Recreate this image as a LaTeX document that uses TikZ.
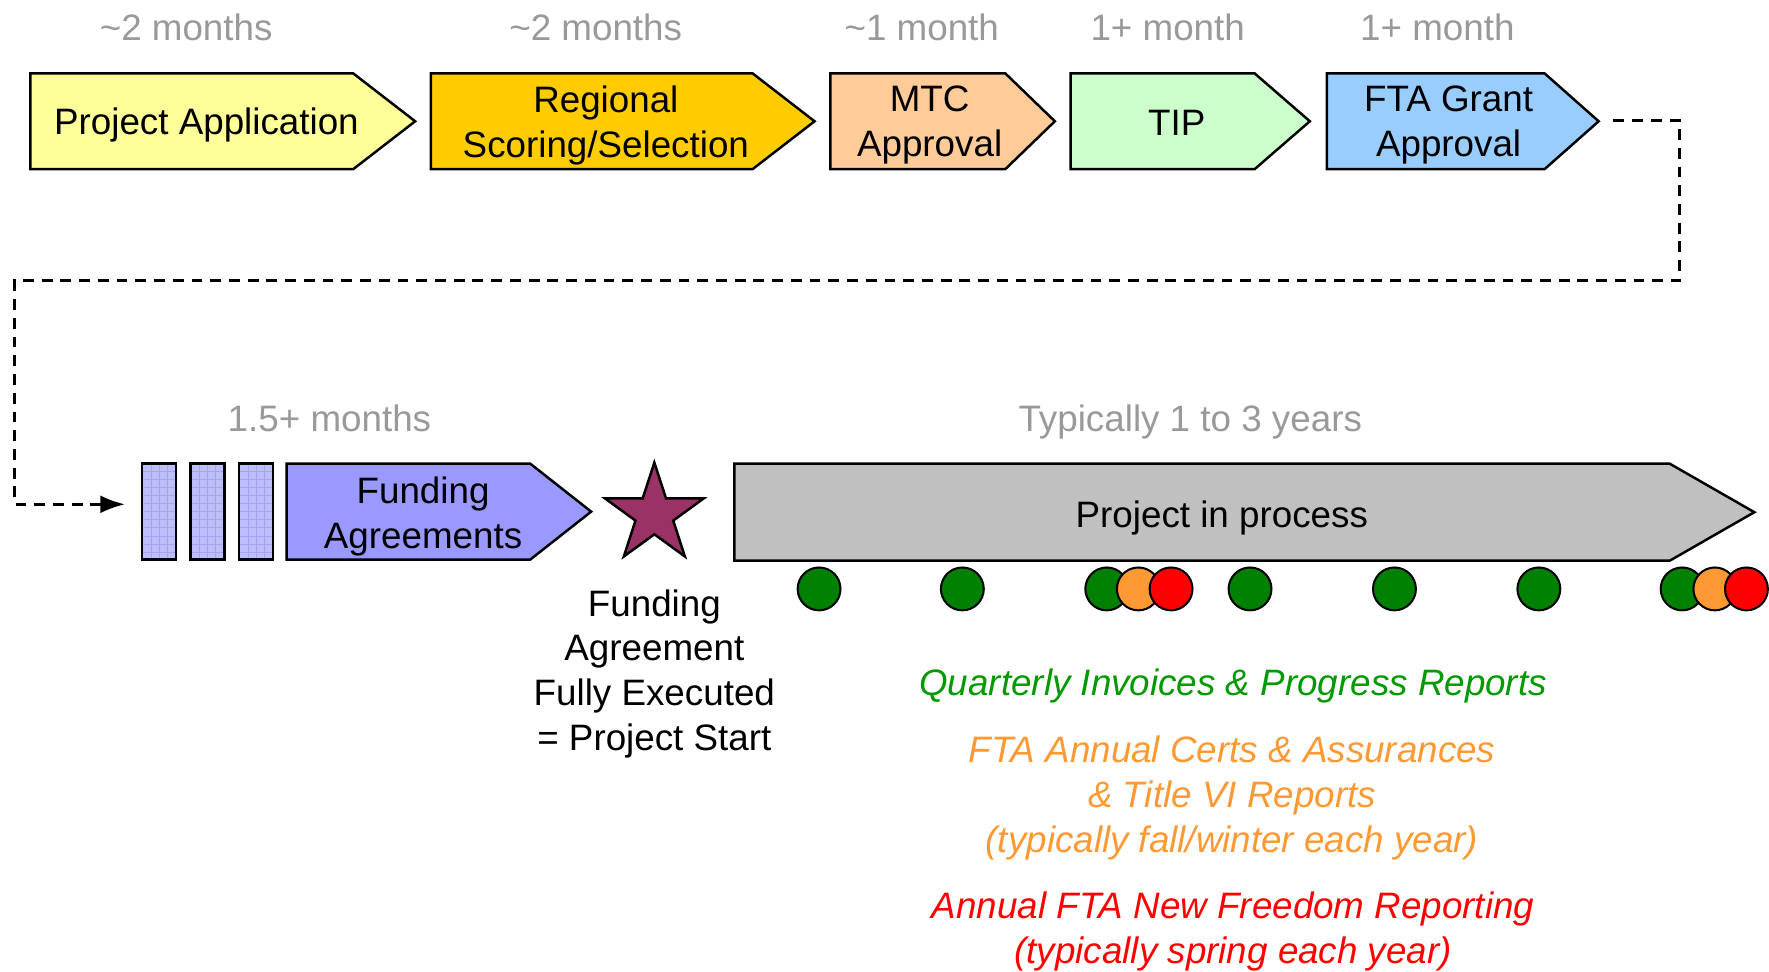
\documentclass[tikz,border=0pt]{standalone}
\usepackage{fontspec}
\setmainfont{Liberation Sans}
\usetikzlibrary{arrows.meta}
\definecolor{cyellow}{HTML}{FFFF99}
\definecolor{cgold}{HTML}{FFCC00}
\definecolor{cpeach}{HTML}{FFCC99}
\definecolor{cmint}{HTML}{CCFFCC}
\definecolor{csky}{HTML}{99CCFF}
\definecolor{clilac}{HTML}{9999FF}
\definecolor{chatch}{HTML}{BEBEFC}
\definecolor{cgridl}{HTML}{A4A4F2}
\definecolor{cgrey}{HTML}{C0C0C0}
\definecolor{cstar}{HTML}{993366}
\definecolor{durgrey}{HTML}{999999}
\definecolor{dgreen}{HTML}{008000}
\definecolor{dorange}{HTML}{FF9933}
\definecolor{dred}{HTML}{FF0000}
\definecolor{tgreen}{HTML}{009900}
\newcommand\chev[6]{%
  \filldraw[box, fill=#6] (#1,#4) -- (#2,#4) -- (#3,{(#4+#5)/2}) -- (#2,#5) -- (#1,#5) -- cycle;}
\begin{document}
\begin{tikzpicture}[x=0.5pt,y=-0.5pt,
  box/.style={draw=black, line width=1.1pt, line join=miter},
  lbl/.style={font=\fontsize{16.3}{20}\selectfont, align=center, inner sep=0pt},
  dur/.style={lbl, text=durgrey},
  note/.style={lbl, font=\fontsize{16.3}{20}\selectfont\itshape},
  dot/.style={circle, draw=black, line width=0.9pt, minimum size=19pt, inner sep=0pt},
  hatchbox/.style={draw=black, line width=1.1pt, fill=chatch, minimum width=15pt, minimum height=42.5pt, inner sep=0pt,
    path picture={\draw[cgridl, line width=0.4pt] (path picture bounding box.south west) grid[step=3.6pt] (path picture bounding box.north east);}},
  dashline/.style={draw=black, line width=1.35pt, dash pattern=on 4.8pt off 3.5pt}
]
\useasboundingbox (0,0) rectangle (1568,861);

% duration labels
\node[dur] (d1) at (165,24) {\textasciitilde 2 months};
\node[dur] (d2) at (528,24) {\textasciitilde 2 months};
\node[dur] (d3) at (817,24) {\textasciitilde 1 month};
\node[dur] (d4) at (1035,24) {1+ month};
\node[dur] (d5) at (1274,24) {1+ month};
\node[dur] (d6) at (292,371) {1.5+ months};
\node[dur] (d7) at (1055,374) {Typically 1 to 3 years};

% top chevrons
\chev{27}{313}{368}{65}{150}{cyellow}
\chev{382}{667}{722}{65}{150}{cgold}
\chev{736}{891}{935}{65}{150}{cpeach}
\chev{949}{1112}{1161}{65}{150}{cmint}
\chev{1176}{1369}{1417}{65}{150}{csky}
\node[lbl] (pa) at (183,111) {Project Application};
\node[lbl] (rs) at (537,111) {Regional\\Scoring/Selection};
\node[lbl] (mtc) at (824,111) {MTC\\Approval};
\node[lbl] (tip) at (1043,109) {TIP};
\node[lbl] (fta) at (1284,111) {FTA Grant\\Approval};

% bottom row
\node[hatchbox] (h1) at (141,453.5) {};
\node[hatchbox] (h2) at (184,453.5) {};
\node[hatchbox] (h3) at (227,453.5) {};
\chev{254}{470}{524}{411}{496}{clilac}
\node[lbl] (fa) at (375,458) {Funding\\Agreements};

\begin{scope}[shift={(580,456)}]
\filldraw[box, fill=cstar] (-90:46) -- (-54:17.6) -- (-18:46) -- (18:17.6) -- (54:46) -- (90:17.6)
  -- (126:46) -- (162:17.6) -- (198:46) -- (234:17.6) -- cycle;
\end{scope}
\coordinate (star) at (580,456);

\chev{651}{1480}{1555}{411}{497}{cgrey}
\node[lbl] (pip) at (1083,459) {Project in process};

% dashed connector
\coordinate (ftaout) at (1430,107);
\coordinate (arrin) at (13,447);
\draw[dashline, -{Latex[length=11pt,width=8pt]}, shorten >=7pt]
  (ftaout) -- (1489,107) -- (1489,249) -- (13,249) -- (arrin) -- (arrin -| h1.west);

% dots
\node[dot, fill=dgreen] (c1) at (726,522) {};
\node[dot, fill=dgreen] (c2) at (853,522) {};
\node[dot, fill=dgreen] (c3) at (981,522) {};
\node[dot, fill=dorange] (c4) at (1009,522) {};
\node[dot, fill=dred] (c5) at (1038,522) {};
\node[dot, fill=dgreen] (c6) at (1108,522) {};
\node[dot, fill=dgreen] (c7) at (1236,522) {};
\node[dot, fill=dgreen] (c8) at (1364,522) {};
\node[dot, fill=dgreen] (c9) at (1491,522) {};
\node[dot, fill=dorange] (c10) at (1520,522) {};
\node[dot, fill=dred] (c11) at (1548,522) {};

% texts
\node[lbl, font=\fontsize{16.3}{19.8}\selectfont] (start) at (580,597) {Funding\\Agreement\\Fully Executed\\= Project Start};
\node[note, text=tgreen] (n1) at (1093,608) {Quarterly Invoices \& Progress Reports};
\node[note, text=dorange] (n2) at (1092,707) {FTA Annual Certs \& Assurances\\\& Title VI Reports\\(typically fall/winter each year)};
\node[note, text=dred] (n3) at (1093,826) {Annual FTA New Freedom Reporting\\(typically spring each year)};
\end{tikzpicture}
\end{document}
